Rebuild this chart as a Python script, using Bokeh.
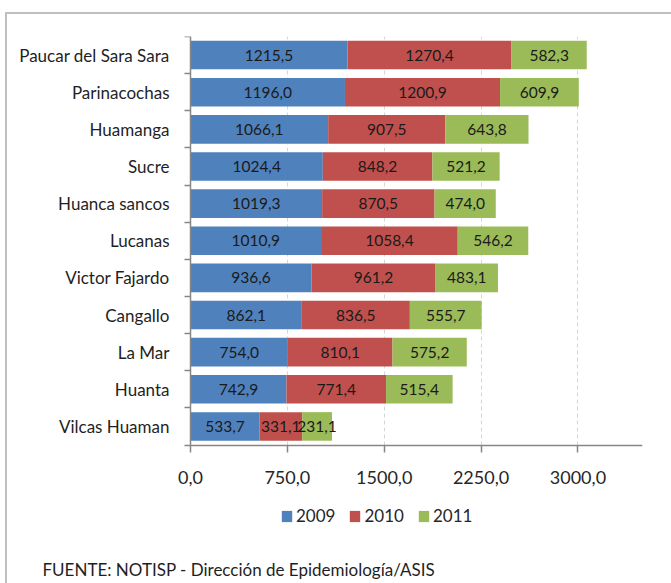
from bokeh.plotting import figure
from bokeh.models import (ColumnDataSource, Range1d, FixedTicker, LabelSet, Legend,
                          LegendItem, Title)
from bokeh.embed import file_html
from bokeh.resources import INLINE
from bokeh.core.properties import value

# ---- data ----
provinces = ["Paucar del Sara Sara", "Parinacochas", "Huamanga", "Sucre", "Huanca sancos",
             "Lucanas", "Victor Fajardo", "Cangallo", "La Mar", "Huanta", "Vilcas Huaman"]
v2009 = [1215.5, 1196.0, 1066.1, 1024.4, 1019.3, 1010.9, 936.6, 862.1, 754.0, 742.9, 533.7]
v2010 = [1270.4, 1200.9, 907.5, 848.2, 870.5, 1058.4, 961.2, 836.5, 810.1, 771.4, 331.1]
v2011 = [582.3, 609.9, 643.8, 521.2, 474.0, 546.2, 483.1, 555.7, 575.2, 515.4, 231.1]
years = ["2009", "2010", "2011"]
x_ticks = [0, 750, 1500, 2250, 3000]
x_tick_labels = ["0,0", "750,0", "1500,0", "2250,0", "3000,0"]
x_max = 3500
source_note = "FUENTE:  NOTISP  - Dirección de Epidemiología/ASIS"

colors = ["#4F81BD", "#C0504D", "#9BBB59"]
FONT = "Lato"
n = len(provinces)

# layout (pixels)
W, H = 671, 583
TOP, RIGHT, BOTTOM = 36, 29, 30
AXIS_X = 190                               # pixel column of the value axis
BAND_PX = 408.5 / n                        # height of one category band
frame_w = W - RIGHT
frame_h = H - TOP - BOTTOM
px_per_unit = (frame_w - AXIS_X) / x_max
x_start = -AXIS_X / px_per_unit            # room for the category labels
y_start = n - frame_h / BAND_PX            # room under the bars for the legend


def fmt(v):
    return f"{v:.1f}".replace(".", ",")


ypos = [n - i - 0.5 for i in range(n)]
src = ColumnDataSource(dict(
    y=ypos,
    y2009=v2009, y2010=v2010, y2011=v2011,
    m2009=[a / 2 for a in v2009],
    m2010=[a + b / 2 for a, b in zip(v2009, v2010)],
    m2011=[a + b + c / 2 for a, b, c in zip(v2009, v2010, v2011)],
    t2009=[fmt(a) for a in v2009],
    t2010=[fmt(a) for a in v2010],
    t2011=[fmt(a) for a in v2011],
))

p = figure(width=W, height=H, output_backend="svg", toolbar_location=None,
           x_range=Range1d(x_start, x_max), y_range=Range1d(y_start, n),
           min_border_left=0, min_border_right=RIGHT, min_border_top=TOP,
           min_border_bottom=BOTTOM)
p.outline_line_color = None
p.background_fill_color = None
p.border_fill_color = None
p.styles = {
    "background-color": "white",
    "background-image": "linear-gradient(#BFBFBF,#BFBFBF), linear-gradient(#BFBFBF,#BFBFBF)",
    "background-size": "100% 2px, 2px 100%",
    "background-position": "6px 12px, 5px 12px",
    "background-repeat": "no-repeat",
}

renderers = p.hbar_stack(["y2009", "y2010", "y2011"], y="y", height=0.77,
                         color=colors, source=src, line_color=None)

for yr in years:
    p.add_layout(LabelSet(x="m" + yr, y="y", text="t" + yr, source=src,
                          text_align="center", text_baseline="middle",
                          text_font=value(FONT), text_font_size="15.5px",
                          text_color="#1a1a1a"))

# x axis (kept at the foot of the bars)
xa = p.xaxis[0]
xa.fixed_location = 0
xa.bounds = (0, x_max)
xa.ticker = FixedTicker(ticks=x_ticks)
xa.major_label_overrides = {t: l for t, l in zip(x_ticks, x_tick_labels)}
xa.major_label_text_font = FONT
xa.major_label_text_font_size = "18px"
xa.major_label_text_color = "#262626"
xa.major_label_standoff = 19
xa.axis_line_color = "#868686"
xa.axis_line_width = 1.5
xa.major_tick_line_color = "#868686"
xa.major_tick_line_width = 1.5
xa.major_tick_out = 7
xa.major_tick_in = 0
xa.minor_tick_line_color = None

# y axis (kept at value 0)
ya = p.yaxis[0]
ya.fixed_location = 0
ya.bounds = (0, n)
ya.ticker = FixedTicker(ticks=ypos, minor_ticks=list(range(n + 1)))
ya.major_label_overrides = {y: name for y, name in zip(ypos, provinces)}
ya.major_label_text_font = FONT
ya.major_label_text_font_size = "17px"
ya.major_label_text_color = "#1f1f1f"
ya.major_tick_line_color = None
ya.major_tick_out = 0
ya.major_tick_in = 0
ya.major_label_standoff = 15
ya.minor_tick_line_color = "#868686"
ya.minor_tick_line_width = 1.5
ya.minor_tick_out = 6
ya.minor_tick_in = 0
ya.axis_line_color = "#868686"
ya.axis_line_width = 1.5

p.xgrid.ticker = FixedTicker(ticks=x_ticks[1:])
p.xgrid.cross_bounds = (0, n)
p.xgrid.grid_line_color = "#D6D6D6"
p.xgrid.grid_line_dash = "4 3"
p.ygrid.grid_line_color = None

legend = Legend(items=[LegendItem(label=yr, renderers=[r]) for yr, r in zip(years, renderers)],
                orientation="horizontal", location=(280, 27),
                glyph_width=13, glyph_height=14, label_standoff=3, spacing=13,
                padding=0, margin=0, border_line_color=None, background_fill_alpha=0,
                label_text_font=FONT, label_text_font_size="17px", label_text_color="#262626")
p.add_layout(legend, "center")

p.add_layout(Title(text=source_note, align="left", offset=42, standoff=6,
                   text_font=FONT, text_font_size="17px", text_font_style="normal",
                   text_color="#1f1f1f"), "below")

open("out.html", "w").write(file_html(p, INLINE))
